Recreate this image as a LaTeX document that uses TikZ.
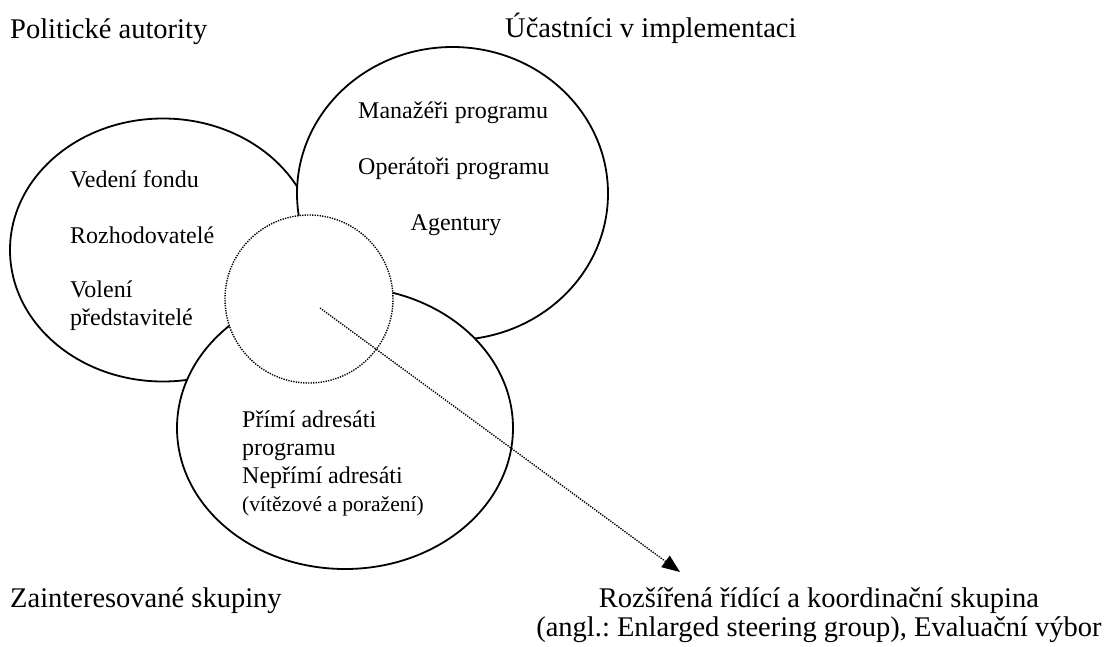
\documentclass[tikz,border=0pt]{standalone}
\usepackage{fontspec}
\setmainfont{Liberation Serif}
\frenchspacing
\usetikzlibrary{shapes.geometric,arrows.meta}
\begin{document}
\begin{tikzpicture}[x=1pt,y=-1pt,
  blob/.style={ellipse,draw=black,fill=white,line width=1.8pt,inner sep=0pt},
  core/.style={circle,draw=black,fill=white,line width=1.4pt,dash pattern=on 1.3pt off 1.2pt,inner sep=0pt,minimum size=168pt},
  lbl/.style={font=\fontsize{28.5}{29}\selectfont,inner sep=0pt},
  txt/.style={font=\fontsize{24}{28}\selectfont,inner sep=0pt},
  link/.style={line width=1.4pt,dash pattern=on 1.3pt off 1.2pt,-{Triangle[length=18pt,width=14pt]}}]
\useasboundingbox (0,0) rectangle (1106,646);
\fill[white] (0,0) rectangle (1106,646);
% circles, drawn in stacking order
\node[blob,minimum width=306pt,minimum height=263pt] (pol) at (163,250) {};
\node[blob,minimum width=311pt,minimum height=293pt] (ucast) at (452.5,193.5) {};
\node[blob,minimum width=336pt,minimum height=282pt] (zaint) at (345,428) {};
\node[core] (rozs) at (309,299) {};
% outer labels
\node[lbl,anchor=base west] (tPol) at (10,38) {Politické autority};
\node[lbl,anchor=base west] (tUc) at (505,37) {Účastníci v implementaci};
\node[lbl,anchor=base west] (tZa) at (10,607) {Zainteresované skupiny};
\node[lbl,anchor=base,align=center] (tRo) at (819,636) {Rozšířená řídící a koordinační skupina\\(angl.: Enlarged steering group), Evaluační výbor};
% inner texts
\node[txt,anchor=base west] (a1) at (70,187) {Vedení fondu};
\node[txt,anchor=base west] (a2) at (70,243) {Rozhodovatelé};
\node[txt,anchor=base west,align=left] (a3) at (70,325) {Volení\\představitelé};
\node[txt,anchor=base west] (b1) at (358,118) {Manažéři programu};
\node[txt,anchor=base west] (b2) at (358,174) {Operátoři programu};
\node[txt,anchor=base] (b3) at (456,230) {Agentury};
\node[txt,anchor=base west,align=left] (c1) at (242,511) {Přímí adresáti\\programu\\Nepřímí adresáti\\{\fontsize{21.5}{27}\selectfont (vítězové a poražení)}};
% connector
\coordinate (src) at (320,308);
\coordinate (tip) at (680,572);
\draw[link] (src) -- (tip);
\end{tikzpicture}
\end{document}
